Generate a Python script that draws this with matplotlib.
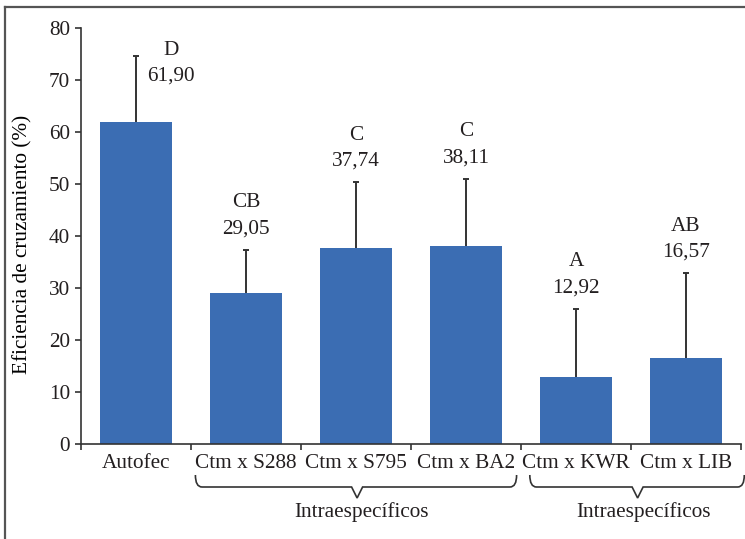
import matplotlib
matplotlib.use("Agg")
import matplotlib.pyplot as plt
from matplotlib.path import Path
from matplotlib.patches import PathPatch
from matplotlib.lines import Line2D
from matplotlib.transforms import blended_transform_factory

categories = ["Autofec", "Ctm x S288", "Ctm x S795", "Ctm x BA2", "Ctm x KWR", "Ctm x LIB"]
means = [61.90, 29.05, 37.74, 38.11, 12.92, 16.57]
errors = [12.7, 8.3, 12.6, 12.9, 13.1, 16.3]
letters = ["D", "CB", "C", "C", "A", "AB"]
value_labels = ["61,90", "29,05", "37,74", "38,11", "12,92", "16,57"]
group_label = "Intraespecíficos"
ylabel = "Eficiencia de cruzamiento (%)"
yticks = [0, 10, 20, 30, 40, 50, 60, 70, 80]

plt.rcParams['font.family'] = ['Liberation Serif', 'DejaVu Serif']
plt.rcParams['font.size'] = 15.3
plt.rcParams['text.color'] = '#231f20'
plt.rcParams['xtick.labelcolor'] = '#231f20'
plt.rcParams['ytick.labelcolor'] = '#231f20'

W, H = 745, 539
fig = plt.figure(figsize=(W/100, H/100), dpi=100)
ax = fig.add_axes([81/W, 1-444/H, (741-81)/W, (444-28)/H])

bar_color = "#3B6DB3"
axis_color = "#333333"
x = list(range(len(categories)))
tops = [m + e for m, e in zip(means, errors)]
ax.bar(x, means, width=0.66, color=bar_color, zorder=2)
ax.vlines(x, means, tops, colors=axis_color, lw=1.4, zorder=3)
ax.hlines(tops, [i - 0.025 for i in x], [i + 0.025 for i in x],
          colors=axis_color, lw=1.4, zorder=3)

for i in x:
    top = tops[i]
    if i == 0:
        ax.annotate(letters[i], (i, top), xytext=(35, 6), textcoords="offset pixels",
                    ha="center", va="center")
        ax.annotate(value_labels[i], (i, top), xytext=(35, -20), textcoords="offset pixels",
                    ha="center", va="center")
    else:
        ax.annotate(letters[i], (i, top), xytext=(0, 47), textcoords="offset pixels",
                    ha="center", va="center")
        ax.annotate(value_labels[i], (i, top), xytext=(0, 21), textcoords="offset pixels",
                    ha="center", va="center")

ax.set_xlim(-0.5, 5.5)
ax.set_ylim(0, 80)
ax.set_yticks(yticks)
ax.set_xticks(x)
ax.set_xticklabels(categories)
ax.set_xticks([i - 0.5 for i in range(len(categories) + 1)], minor=True)
ax.tick_params(axis="x", which="major", length=0, pad=7)
ax.tick_params(axis="x", which="minor", length=4, width=1.2, color=axis_color, direction="out")
ax.tick_params(axis="y", length=4, width=1.2, color=axis_color, pad=4)
for s in ["top", "right"]:
    ax.spines[s].set_visible(False)
for s in ["left", "bottom"]:
    ax.spines[s].set_color(axis_color)
    ax.spines[s].set_linewidth(1.2)
ax.set_ylabel(ylabel)
ax.yaxis.set_label_coords(-(81-32)/(741-81), 0.48)

# braces under groups
trans = blended_transform_factory(ax.transData, fig.transFigure)
def fy(py):
    return 1 - py/H

def brace(x0, x1, xm, col=axis_color):
    y_top, y_mid, y_tip = fy(475), fy(487), fy(498)
    r = 0.06
    verts = [(x0, y_top), (x0, y_mid), (x0 + r, y_mid),
             (xm - 0.05, y_mid), (xm, y_tip), (xm + 0.05, y_mid),
             (x1 - r, y_mid), (x1, y_mid), (x1, y_top)]
    codes = [Path.MOVETO, Path.CURVE3, Path.CURVE3,
             Path.LINETO, Path.LINETO, Path.LINETO,
             Path.LINETO, Path.CURVE3, Path.CURVE3]
    p = PathPatch(Path(verts, codes), transform=trans, fill=False,
                  edgecolor=col, lw=1.2, clip_on=False)
    fig.add_artist(p)

brace(0.54, 3.46, 2.01)
brace(3.58, 5.53, 4.56)
fig.text(2.05, fy(512), group_label, transform=trans, ha="center", va="center")
fig.text(4.61, fy(512), group_label, transform=trans, ha="center", va="center")

# frame lines (top and left)
fig.add_artist(Line2D([5/W, 1], [1-6.5/H, 1-6.5/H], transform=fig.transFigure,
                      color="#555555", lw=1.6))
fig.add_artist(Line2D([5/W, 5/W], [0, 1-6.5/H], transform=fig.transFigure,
                      color="#555555", lw=1.6))

fig.savefig("out.png", dpi=100)
